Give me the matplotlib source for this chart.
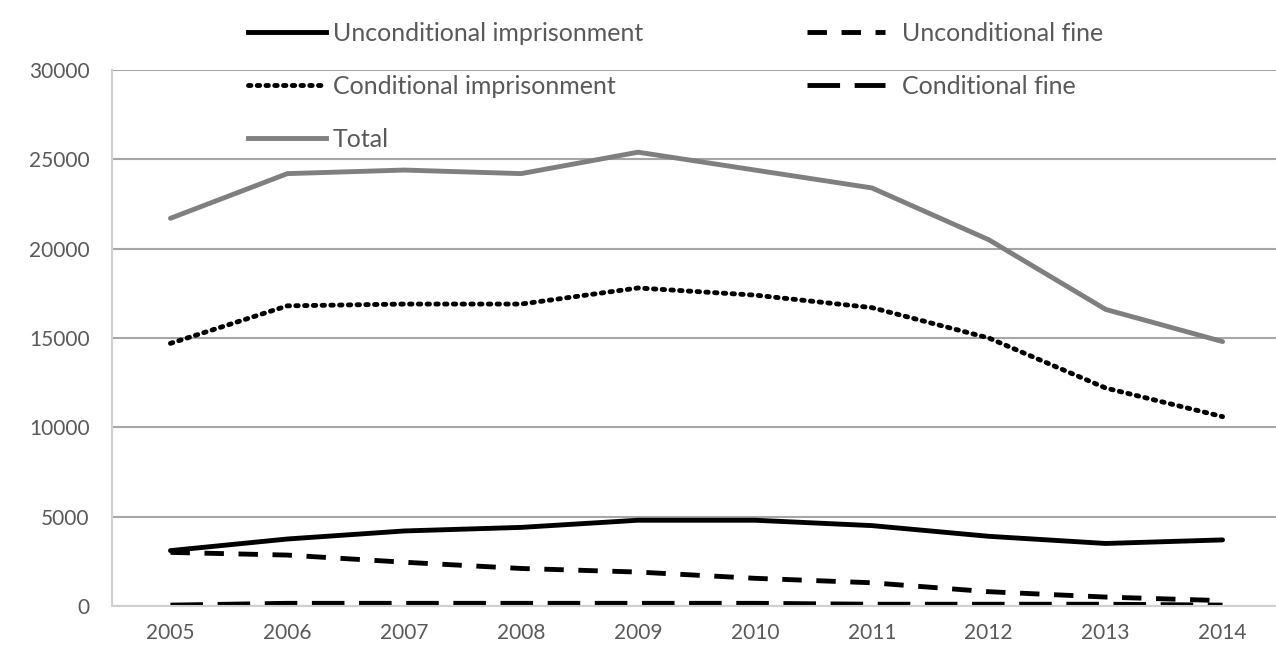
import matplotlib.pyplot as plt
from matplotlib.lines import Line2D

years = ['2005', '2006', '2007', '2008', '2009', '2010', '2011', '2012', '2013', '2014']
total = [21700, 24200, 24400, 24200, 25400, 24400, 23400, 20500, 16600, 14800]
cond_imprisonment = [14700, 16800, 16900, 16900, 17800, 17400, 16700, 15000, 12200, 10600]
uncond_imprisonment = [3100, 3750, 4200, 4400, 4800, 4800, 4500, 3900, 3500, 3700]
uncond_fine = [3000, 2850, 2450, 2100, 1900, 1550, 1300, 800, 500, 300]
cond_fine = [50, 150, 150, 150, 150, 150, 100, 100, 100, 50]

plt.rcParams['font.family'] = ['Lato', 'DejaVu Sans']
text_color = '#595959'
grid_color = '#a6a6a6'

fig = plt.figure(figsize=(12.76, 6.63), dpi=100)
ax = fig.add_axes([112 / 1276, 57 / 663, 1169 / 1276, 536 / 663])
x = range(len(years))

lw = 3.5
styles = {
    'Unconditional imprisonment': dict(color='black', linestyle='-'),
    'Conditional imprisonment': dict(color='black', linestyle=(0, (0.5, 1.3)), dash_capstyle='round'),
    'Total': dict(color='#7f7f7f', linestyle='-'),
    'Unconditional fine': dict(color='black', linestyle=(0, (4, 3))),
    'Conditional fine': dict(color='black', linestyle=(0, (6.7, 3))),
}
series = {
    'Total': total,
    'Conditional imprisonment': cond_imprisonment,
    'Unconditional imprisonment': uncond_imprisonment,
    'Unconditional fine': uncond_fine,
    'Conditional fine': cond_fine,
}
for name, vals in series.items():
    ax.plot(x, vals, linewidth=lw, solid_capstyle='round', **styles[name])

ax.set_xlim(-0.5, len(years) - 0.5)
ax.set_ylim(0, 30000)
ax.set_yticks(range(0, 30001, 5000))
ax.set_xticks(list(x))
ax.set_xticklabels(years)
ax.yaxis.grid(True, color=grid_color, linewidth=1.5)
ax.set_axisbelow(True)
for s in ['top', 'right']:
    ax.spines[s].set_visible(False)
ax.spines['left'].set_color('#d0d0d0')
ax.spines['bottom'].set_color('#d0d0d0')
ax.spines['left'].set_linewidth(1.5)
ax.spines['bottom'].set_linewidth(1.5)
ax.tick_params(length=0, labelsize=15, labelcolor=text_color)
ax.tick_params(axis='y', pad=16)
ax.tick_params(axis='x', pad=12)

def handles(names):
    return [Line2D([], [], linewidth=lw, **styles[n]) for n in names]

col1 = ['Unconditional imprisonment', 'Conditional imprisonment', 'Total']
col2 = ['Unconditional fine', 'Conditional fine']
common = dict(loc='upper left', frameon=False, fontsize=18, labelcolor=text_color,
              handlelength=3.1, labelspacing=1.2, borderaxespad=0, borderpad=0)
leg1 = fig.legend(handles(col1), col1, bbox_to_anchor=(248 / 1276, 1 - 22 / 663),
                  handletextpad=0.3, **common)
leg2 = fig.legend(handles(col2), col2, bbox_to_anchor=(807 / 1276, 1 - 22 / 663),
                  handletextpad=0.7, **common)

fig.savefig('out.png', dpi=100)
